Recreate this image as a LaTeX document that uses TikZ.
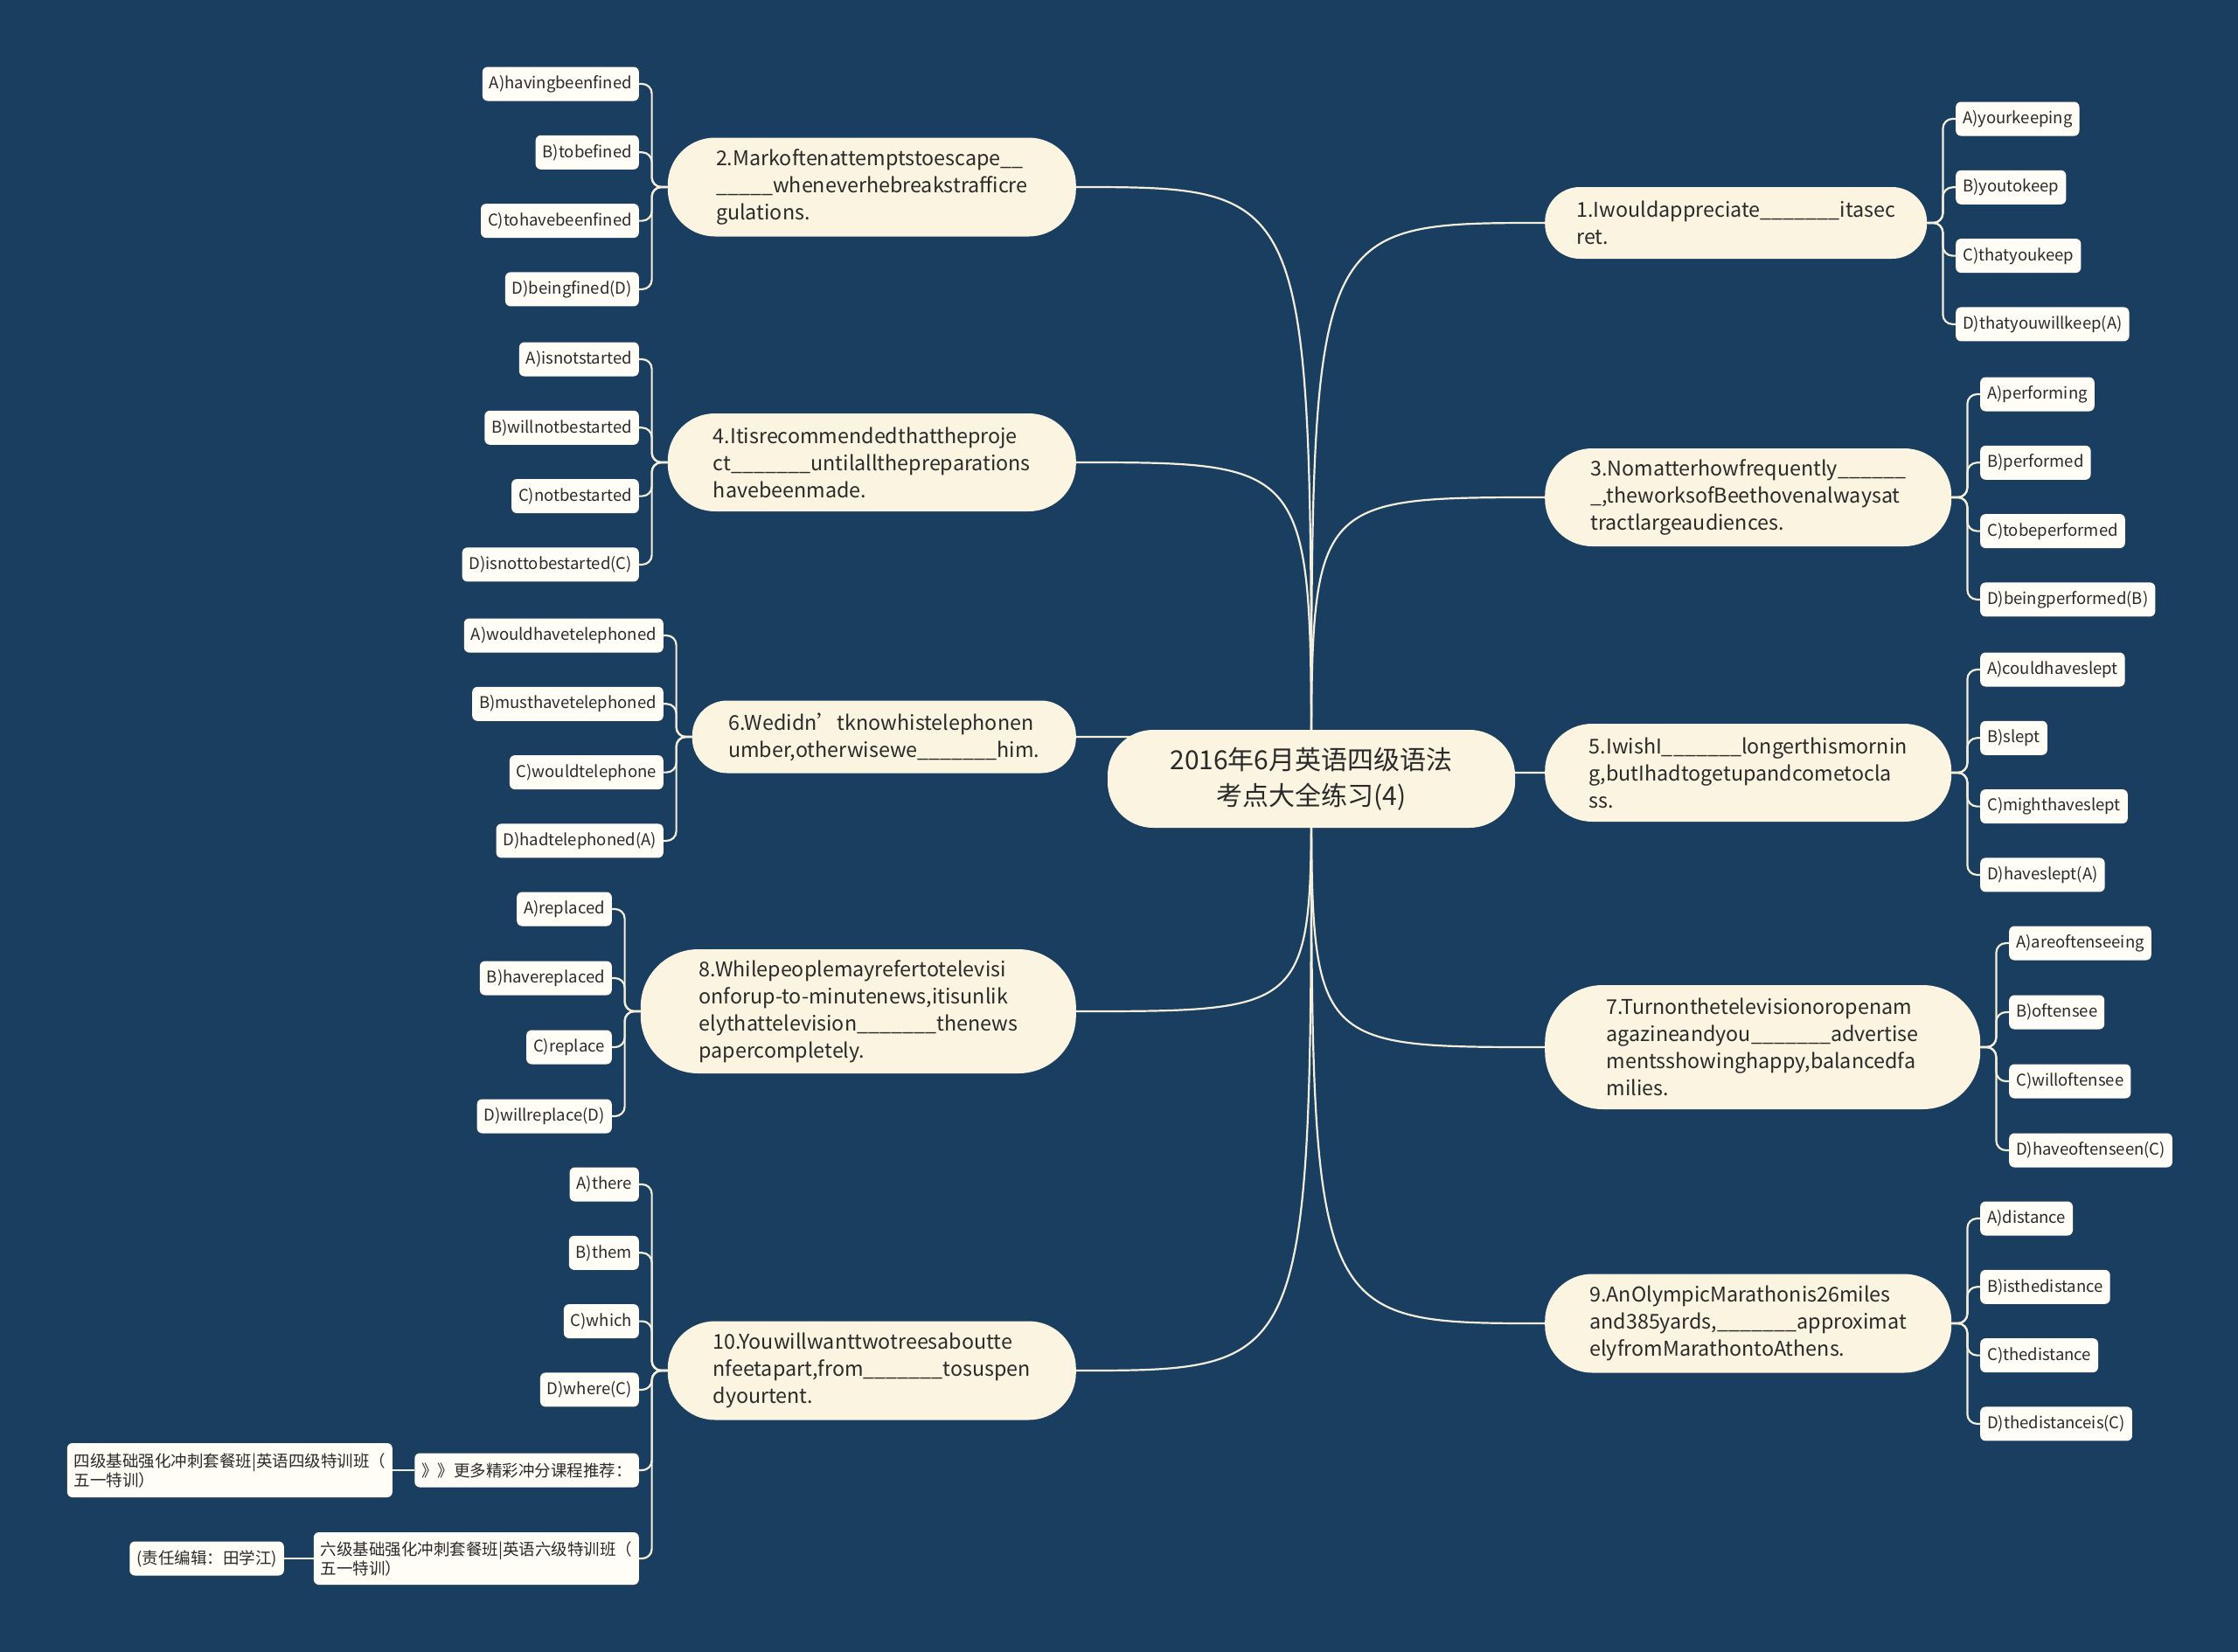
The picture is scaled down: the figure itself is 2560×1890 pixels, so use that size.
\documentclass[tikz,border=0pt]{standalone}
\usepackage{fontspec}
\setmainfont{Noto Sans CJK SC}
\usetikzlibrary{positioning}
\definecolor{deepsea}{HTML}{1A3E5F}
\definecolor{cream}{HTML}{FAF4E0}
\definecolor{paper}{HTML}{FFFDF6}
\definecolor{ink}{HTML}{2A2A2A}
\definecolor{wire}{HTML}{F4EFDD}
\pgfdeclarelayer{bg}
\pgfdeclarelayer{wires}
\pgfsetlayers{bg,wires,main}
\newcommand{\blankline}{\_\_\_\_\_\_\_}

\begin{document}
\begin{tikzpicture}[x=1pt,y=-1pt,
  topic/.style={fill=cream, text=ink, rounded corners=#1, inner sep=0pt,
    align=left, font=\fontsize{23.3}{31}\selectfont},
  topic/.default=40pt,
  choice/.style={fill=paper, text=ink, rounded corners=6pt, minimum height=39pt,
    inner xsep=8pt, inner ysep=0pt, font=\fontsize{18.5}{23}\selectfont},
  wire/.style={draw=wire, line width=2.2pt}]

  % background
  \begin{pgfonlayer}{bg}
    \fill[deepsea] (0,0) rectangle (2560,1890);
  \end{pgfonlayer}

  % centre
  \node[topic=52pt, minimum width=466pt, minimum height=112pt, align=center,
        font=\fontsize{30}{41}\selectfont] (root) at (1500,891)
    {2016年6月英语四级语法\\考点大全练习(4)};

  % questions, right side
  \node[topic, anchor=west, minimum width=437pt, minimum height=82pt] (q1) at (1767,255)
    {1.Iwouldappreciate\blankline itasec\\ret.};
  \node[topic=54pt, anchor=west, minimum width=465pt, minimum height=112pt] (q3) at (1767,569)
    {3.Nomatterhowfrequently\_\_\_\_\_\_\\\_,theworksofBeethovenalwaysat\\tractlargeaudiences.};
  \node[topic=54pt, anchor=west, minimum width=465pt, minimum height=112pt] (q5) at (1767,884)
    {5.IwishI\blankline longerthismornin\\g,butIhadtogetupandcometocla\\ss.};
  \node[topic=66pt, anchor=west, minimum width=498pt, minimum height=142pt] (q7) at (1767,1198)
    {7.Turnonthetelevisionoropenam\\agazineandyou\blankline advertise\\mentsshowinghappy,balancedfa\\milies.};
  \node[topic=54pt, anchor=west, minimum width=465pt, minimum height=113pt] (q9) at (1767,1514)
    {9.AnOlympicMarathonis26miles\\and385yards,\blankline approximat\\elyfromMarathontoAthens.};

  % questions, left side
  \node[topic=54pt, anchor=east, minimum width=467pt, minimum height=113pt] (q2) at (1231,214)
    {2.Markoftenattemptstoescape\_\_\\\_\_\_\_\_wheneverhebreakstrafficre\\gulations.};
  \node[topic=54pt, anchor=east, minimum width=467pt, minimum height=112pt] (q4) at (1231,529)
    {4.Itisrecommendedthattheproje\\ct\blankline untilallthepreparations\\havebeenmade.};
  \node[topic, anchor=east, minimum width=439pt, minimum height=83pt] (q6) at (1231,843)
    {6.Wedidn’tknowhistelephonen\\umber,otherwisewe\blankline him.};
  \node[topic=66pt, anchor=east, minimum width=498pt, minimum height=142pt] (q8) at (1231,1157)
    {8.Whilepeoplemayrefertotelevisi\\onforup-to-minutenews,itisunlik\\elythattelevision\blankline thenews\\papercompletely.};
  \node[topic=54pt, anchor=east, minimum width=467pt, minimum height=113pt] (q10) at (1231,1568)
    {10.Youwillwanttwotreesaboutte\\nfeetapart,from\blankline tosuspen\\dyourtent.};

  % answer choices
  \foreach \t [count=\i] in {A)yourkeeping,B)youtokeep,C)thatyoukeep,D)thatyouwillkeep(A)}
    \node[choice, anchor=west] (q1-\i) at (2237,{136+78.3*(\i-1)}) {\t};
  \foreach \t [count=\i] in {A)performing,B)performed,C)tobeperformed,D)beingperformed(B)}
    \node[choice, anchor=west] (q3-\i) at (2265,{451+78.3*(\i-1)}) {\t};
  \foreach \t [count=\i] in {A)couldhaveslept,B)slept,C)mighthaveslept,D)haveslept(A)}
    \node[choice, anchor=west] (q5-\i) at (2265,{766+78.3*(\i-1)}) {\t};
  \foreach \t [count=\i] in {A)areoftenseeing,B)oftensee,C)willoftensee,D)haveoftenseen(C)}
    \node[choice, anchor=west] (q7-\i) at (2298,{1079+79*(\i-1)}) {\t};
  \foreach \t [count=\i] in {A)distance,B)isthedistance,C)thedistance,D)thedistanceis(C)}
    \node[choice, anchor=west] (q9-\i) at (2265,{1394+78.3*(\i-1)}) {\t};
  \foreach \t [count=\i] in {A)havingbeenfined,B)tobefined,C)tohavebeenfined,D)beingfined(D)}
    \node[choice, anchor=east] (q2-\i) at (731,{96+78.3*(\i-1)}) {\t};
  \foreach \t [count=\i] in {A)isnotstarted,B)willnotbestarted,C)notbestarted,D)isnottobestarted(C)}
    \node[choice, anchor=east] (q4-\i) at (731,{411+78.3*(\i-1)}) {\t};
  \foreach \t [count=\i] in {A)wouldhavetelephoned,B)musthavetelephoned,C)wouldtelephone,D)hadtelephoned(A)}
    \node[choice, anchor=east] (q6-\i) at (759,{727+78.3*(\i-1)}) {\t};
  \foreach \t [count=\i] in {A)replaced,B)havereplaced,C)replace,D)willreplace(D)}
    \node[choice, anchor=east] (q8-\i) at (700,{1040+79*(\i-1)}) {\t};
  \foreach \t [count=\i] in {A)there,B)them,C)which,D)where(C)}
    \node[choice, anchor=east] (q10-\i) at (731,{1355+78.3*(\i-1)}) {\t};

  % course notes under question 10
  \node[choice, anchor=east] (q10-5) at (731,1682) {》》更多精彩冲分课程推荐：};
  \node[choice, anchor=east, text width=356pt, align=left, minimum height=60pt,
        font=\fontsize{18.5}{22}\selectfont] (q10-6) at (731,1783)
    {六级基础强化冲刺套餐班|英语六级特训班（\\五一特训）};
  \node[choice, anchor=east, text width=356pt, align=left, minimum height=62pt,
        font=\fontsize{18.5}{22}\selectfont] (cet4) at (449,1682)
    {四级基础强化冲刺套餐班|英语四级特训班（\\五一特训）};
  \node[choice, anchor=east] (editor) at (325,1783) {(责任编辑：田学江)};

  % connectors
  \begin{pgfonlayer}{wires}
    \foreach \q in {q2,q4,q6,q8,q10}
      \draw[wire] (root.center) .. controls (root.center |- \q.east) .. (\q.east);
    \foreach \q in {q1,q3,q5,q7,q9}
      \draw[wire] (root.center) .. controls (root.center |- \q.west) .. (\q.west);
    \foreach \q in {q2,q4,q6,q8}
      \foreach \i in {1,...,4}
        \draw[wire, rounded corners=11pt] (\q.west) -- ++(-18,0) |- (\q-\i.east);
    \foreach \i in {1,...,6}
      \draw[wire, rounded corners=11pt] (q10.west) -- ++(-18,0) |- (q10-\i.east);
    \foreach \q in {q1,q3,q5,q7,q9}
      \foreach \i in {1,...,4}
        \draw[wire, rounded corners=11pt] (\q.east) -- ++(18,0) |- (\q-\i.west);
    \draw[wire] (q10-5.west) -- (cet4.east);
    \draw[wire] (q10-6.west) -- (editor.east);
  \end{pgfonlayer}
\end{tikzpicture}
\end{document}
